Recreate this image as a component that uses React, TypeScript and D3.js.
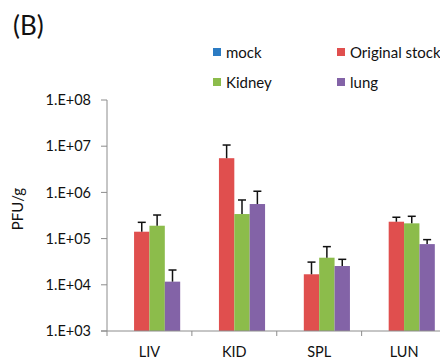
import * as d3 from 'd3';

const categories = ['LIV', 'KID', 'SPL', 'LUN'];
const seriesNames = ['mock', 'Original stock', 'Kidney', 'lung'];
const seriesColors = ['#2B7BC3', '#E04F4E', '#8CBC4B', '#8363A7'];

// mock has no visible bars (below the 1.E+03 floor)
const mockValues = [0, 0, 0, 0];
const originalValues = [1.41e5, 5.5e6, 1.69e4, 2.32e5];
const kidneyValues = [1.9e5, 3.4e5, 3.86e4, 2.14e5];
const lungValues = [1.17e4, 5.6e5, 2.55e4, 7.6e4];

// upper end of each error bar
const mockErr = [0, 0, 0, 0];
const originalErr = [2.25e5, 1.06e7, 3.1e4, 2.9e5];
const kidneyErr = [3.24e5, 6.85e5, 6.7e4, 3.04e5];
const lungErr = [2.09e4, 1.06e6, 3.56e4, 9.5e4];

const yTicks = [1e3, 1e4, 1e5, 1e6, 1e7, 1e8];

const W = 440;
const H = 360;
const FONT = 'Lato, "Open Sans", sans-serif';

export default function App() {
  const values = [mockValues, originalValues, kidneyValues, lungValues];
  const errs = [mockErr, originalErr, kidneyErr, lungErr];

  const margin = { top: 100, left: 107, bottom: 331, right: 446.5 };

  const y = d3.scaleLog().domain([1e3, 1e8]).range([margin.bottom, margin.top]);
  const x = d3.scaleBand<string>().domain(categories).range([margin.left, margin.right]).padding(0);
  const xInner = d3
    .scaleBand<string>()
    .domain(seriesNames)
    .range([0, x.bandwidth()])
    .paddingInner(0)
    .paddingOuter(0.76);

  const fmt = (v: number) => `1.E+${String(Math.round(Math.log10(v))).padStart(2, '0')}`;

  const axisColor = '#8c8c8c';

  return (
    <div style={{ position: 'absolute', left: 0, top: 0 }}>
      <svg width={W} height={H} style={{ display: 'block', background: '#fff' }} fontFamily={FONT}>
        <text x={13} y={35} fontSize={26} fill="#111">(B)</text>

        {/* legend */}
        {seriesNames.map((name, i) => {
          const lx = i % 2 === 0 ? 213 : 337;
          const ly = i < 2 ? 48 : 78;
          return (
            <g key={name}>
              <rect x={lx} y={ly} width={8} height={8} fill={seriesColors[i]} />
              <text x={lx + 13} y={ly + 9.5} fontSize={15} fill="#111">{name}</text>
            </g>
          );
        })}

        {/* y axis */}
        <line x1={margin.left} x2={margin.left} y1={margin.top} y2={margin.bottom} stroke={axisColor} strokeWidth={1} />
        {yTicks.map((t) => (
          <g key={t}>
            <line x1={margin.left - 6} x2={margin.left} y1={y(t)} y2={y(t)} stroke={axisColor} />
            <text x={91} y={y(t)} dy="0.36em" textAnchor="end" fontSize={14.5} fill="#111">
              {fmt(t)}
            </text>
          </g>
        ))}
        <text
          transform={`translate(23,209) rotate(-90)`}
          textAnchor="middle"
          fontSize={15}
          fill="#111"
        >
          PFU/g
        </text>

        {/* bars */}
        {categories.map((c, ci) => (
          <g key={c} transform={`translate(${x(c)},0)`}>
            {seriesNames.map((s, si) => {
              const v = values[si][ci];
              if (v <= 1e3) return null;
              const bx = xInner(s) ?? 0;
              const bw = xInner.bandwidth();
              const top = y(v);
              const eTop = y(errs[si][ci]);
              const cx = bx + bw / 2;
              return (
                <g key={s}>
                  <rect x={bx} y={top} width={bw} height={margin.bottom - top} fill={seriesColors[si]} />
                  <line x1={cx} x2={cx} y1={top} y2={eTop} stroke="#111" strokeWidth={1.5} />
                  <line x1={cx - 4} x2={cx + 4} y1={eTop} y2={eTop} stroke="#111" strokeWidth={1.5} />
                </g>
              );
            })}
          </g>
        ))}

        {/* x axis */}
        <line x1={margin.left - 6} x2={W} y1={margin.bottom} y2={margin.bottom} stroke={axisColor} />
        {categories.map((c) => (
          <line
            key={c}
            x1={x(c) ?? 0}
            x2={x(c) ?? 0}
            y1={margin.bottom}
            y2={margin.bottom + 5}
            stroke={axisColor}
          />
        ))}
        {categories.map((c) => (
          <text
            key={c}
            x={(x(c) ?? 0) + x.bandwidth() / 2}
            y={357}
            textAnchor="middle"
            fontSize={14.5}
            fill="#111"
          >
            {c}
          </text>
        ))}
      </svg>
    </div>
  );
}
